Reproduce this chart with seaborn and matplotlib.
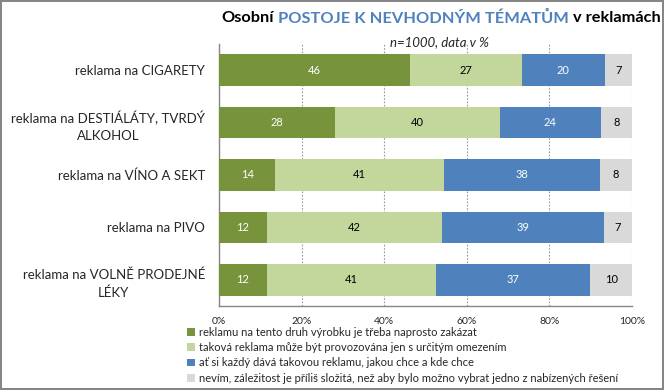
import matplotlib
matplotlib.use('Agg')
import matplotlib.pyplot as plt
import seaborn as sns
import pandas as pd
import numpy as np
from matplotlib.patches import Patch
from matplotlib.ticker import FixedLocator

categories = [
    'reklama na CIGARETY',
    'reklama na DESTIÁLÁTY, TVRDÝ\nALKOHOL',
    'reklama na VÍNO A SEKT',
    'reklama na PIVO',
    'reklama na VOLNĚ PRODEJNÉ\nLÉKY',
]
zakazat = [46.2, 28.1, 13.6, 11.6, 11.6]
omezeni = [27.2, 39.9, 40.8, 42.4, 40.9]
kazdy = [20.0, 24.4, 37.9, 39.1, 37.4]
nevim = [6.6, 7.6, 7.7, 6.9, 10.1]

series_names = [
    'reklamu na tento druh výrobku je třeba naprosto zakázat',
    'taková reklama může být provozována jen s určitým omezením',
    'ať si každý dává takovou reklamu, jakou chce a kde chce',
    'nevím, záležitost je příliš složitá, než aby bylo možno vybrat jedno z nabízených řešení',
]
colors = ['#77933C', '#C3D69B', '#4F81BD', '#D9D9D9']
text_colors = ['white', 'black', 'white', 'black']

sns.set_style('white')
plt.rcParams['font.family'] = ['Lato', 'DejaVu Sans']

df = pd.DataFrame({'Kategorie': categories, 's0': zakazat, 's1': omezeni,
                   's2': kazdy, 's3': nevim})
cols = ['s0', 's1', 's2', 's3']
cum = df[cols].cumsum(axis=1)

fig = plt.figure(figsize=(6.64, 3.90), dpi=100)
ax = fig.add_axes([219 / 664, 1 - 306 / 390, 413 / 664, 262 / 390])

# draw cumulative bars back to front to get a stacked look
for i in reversed(range(4)):
    sns.barplot(data=cum.assign(Kategorie=df['Kategorie']), x=cols[i], y='Kategorie',
                color=colors[i], saturation=1, width=0.6, orient='h', ax=ax,
                edgecolor='none', zorder=3)

for r in range(len(categories)):
    left = 0
    for i, c in enumerate(cols):
        v = df.loc[r, c]
        ax.text(left + v / 2, r, f'{v:.0f}', ha='center', va='center',
                color=text_colors[i], fontsize=8, zorder=5)
        left += v

ax.set_xlim(0, 100)
ax.set_ylim(4.5, -0.5)
ax.set_xlabel('')
ax.set_ylabel('')
ax.set_xticks(range(0, 101, 20))
ax.set_xticklabels([f'{t}%' for t in range(0, 101, 20)], fontsize=7.5)
ax.xaxis.grid(True, linestyle=(0, (1.5, 1.5)), color='#999999', linewidth=0.8, zorder=0)
ax.set_axisbelow(True)
ax.tick_params(axis='x', length=4, color='#868686', direction='out', pad=4)
ax.set_yticks(range(len(categories)))
ax.set_yticklabels(categories, fontsize=9.5, multialignment='center', linespacing=1.55)
ax.yaxis.set_minor_locator(FixedLocator(np.arange(-0.5, 5, 1)))
ax.tick_params(axis='y', which='major', length=0, pad=10)
ax.tick_params(axis='y', which='minor', length=5, color='#868686', direction='out')
for s in ['top', 'right']:
    ax.spines[s].set_visible(False)
for s in ['left', 'bottom']:
    ax.spines[s].set_color('#868686')
    ax.spines[s].set_linewidth(1)

handles = [Patch(facecolor=c, edgecolor='none') for c in colors]
fig.legend(handles, series_names, loc='upper left', bbox_to_anchor=(187 / 664, 1 - 327 / 390),
           frameon=False, fontsize=8, handlelength=0.7, handleheight=0.7,
           handletextpad=0.4, labelspacing=0.38, borderaxespad=0, borderpad=0)

# title in three colours, right aligned
fig.canvas.draw()
renderer = fig.canvas.get_renderer()
x_right = 661
ty = 1 - 18 / 390
parts = [('v reklamách', 'black'), ('POSTOJE K NEVHODNÝM TÉMATŮM', '#4F81BD'), ('Osobní', 'black')]
for txt, col in parts:
    t = fig.text(x_right / 664, ty, txt, ha='right', va='center', color=col,
                 fontsize=11.8, fontweight='bold')
    bb = t.get_window_extent(renderer)
    x_right = bb.x0 - 4
fig.text(440 / 664, 1 - 42 / 390, 'n=1000, data v %', ha='center', va='center',
         fontsize=9.5, style='italic')

fig.patch.set_edgecolor('#868686')
fig.patch.set_linewidth(1.5)

fig.savefig('out.png', dpi=100)
